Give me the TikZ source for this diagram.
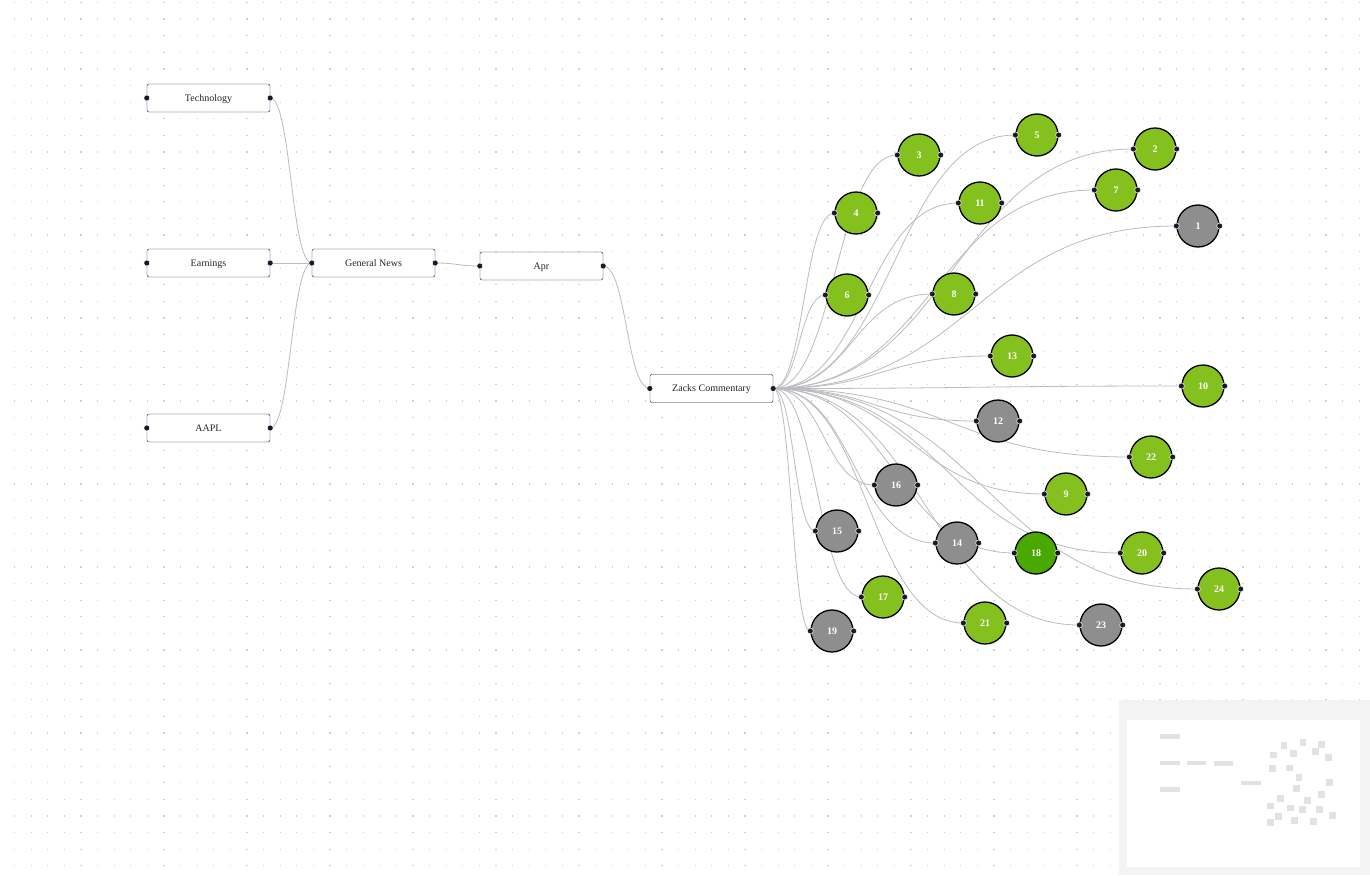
\documentclass[tikz,border=0pt]{standalone}
\usepackage{fontspec}
\setmainfont{Liberation Serif}
\usetikzlibrary{calc,backgrounds}
\definecolor{handlecol}{HTML}{1A192B}
\definecolor{edgecol}{HTML}{BCBCC0}
\definecolor{leafgreen}{HTML}{84C11F}
\definecolor{deepgreen}{HTML}{4AA900}
\definecolor{leafgray}{HTML}{8E8E8E}
\definecolor{maskcol}{HTML}{F3F3F3}
\definecolor{mapnode}{HTML}{E2E2E2}
\definecolor{dotcol}{HTML}{CFCFCF}
% number / x / y / style of the round nodes
\newcommand\leaflist{1/1198/226/gy, 2/1155/149/lg, 3/919/155/lg, 4/856/213/lg,
  5/1037/135/lg, 6/847/295/lg, 7/1116/190/lg, 8/954/294/lg, 9/1066/494/lg,
  10/1203/386/lg, 11/980/203/lg, 12/998/421/gy, 13/1012/356/lg, 14/957/543/gy,
  15/837/531/gy, 16/896/485/gy, 17/883/597/lg, 18/1036/553/dg, 19/832/631/gy,
  20/1142/553/lg, 21/985/623/lg, 22/1151/457/lg, 23/1101/625/gy, 24/1219/589/lg}
\begin{document}
\begin{tikzpicture}[x=1pt, y=-1pt,
    box/.style={draw=handlecol, fill=white, rounded corners=2pt, minimum width=123pt,
      minimum height=28pt, inner sep=0pt, text height=6.5pt, text depth=0pt,
      text=black!85, font=\fontsize{10}{12}\selectfont},
    leaf/.style={circle, draw=black, line width=1.3pt, minimum size=42pt, inner sep=0pt,
      text=white, font=\fontsize{10}{12}\selectfont\bfseries},
    lg/.style={leaf, fill=leafgreen},
    dg/.style={leaf, fill=deepgreen},
    gy/.style={leaf, fill=leafgray},
    link/.style={draw=edgecol, line width=0.8pt},
    handle/.style={fill=handlecol, draw=white, line width=0.5pt}]
  \useasboundingbox (0,0) rectangle (1370,875);
  % boxes
  \node[box] (tech) at (208.5,98) {Technology};
  \node[box] (earn) at (208.5,263) {Earnings};
  \node[box] (aapl) at (208.5,428) {AAPL};
  \node[box] (news) at (373.5,263) {General News};
  \node[box] (apr) at (541.5,266) {Apr};
  \node[box] (zacks) at (711.5,388.5) {Zacks Commentary};
  % round nodes
  \foreach \k/\cx/\cy/\s in \leaflist
    \node[\s] (c\k) at (\cx,\cy) {\k};
  \begin{scope}[on background layer]
    \fill[white] (0,0) rectangle (1370,875);
    \foreach \r in {0,...,52}
      \draw[dotcol, line width=1.2pt, dash pattern=on 1.2pt off 15.4pt] (14,2.5+16.6*\r) -- (1370,2.5+16.6*\r);
    \foreach \a/\b in {tech/news, earn/news, aapl/news, news/apr, apr/zacks}
      \draw[link] let \p1=(\a.east), \p2=(\b.west), \n1={0.5*(\x2-\x1)} in
        (\p1) .. controls +(\n1,0) and +(-\n1,0) .. (\p2);
    \foreach \k in {1,...,24}
      \draw[link] let \p1=(zacks.east), \p2=(c\k.west), \n1={0.5*(\x2-\x1)} in
        (\p1) .. controls +(\n1,0) and +(-\n1,0) .. (\p2);
  \end{scope}
  % handles
  \foreach \a in {tech, earn, aapl, news, apr, zacks}
    \fill[handle] (\a.west) circle (3pt) (\a.east) circle (3pt);
  \foreach \k in {1,...,24}
    \fill[handle] (c\k.west) circle (3pt) (c\k.east) circle (3pt);
  % minimap
  \fill[maskcol] (1119,700) rectangle (1370,875);
  \fill[white] (1127,720) rectangle (1360,867);
  \begin{scope}[shift={(1136.5,720.8)}, scale=0.1605]
    \foreach \bx/\by in {208.5/98, 208.5/263, 208.5/428, 373.5/263, 541.5/266, 711.5/388}
      \fill[mapnode] (\bx-61.5,\by-14) rectangle (\bx+61.5,\by+14);
    \foreach \k/\cx/\cy/\s in \leaflist
      \fill[mapnode] (\cx-21.5,\cy-21.5) rectangle (\cx+21.5,\cy+21.5);
  \end{scope}
\end{tikzpicture}
\end{document}
